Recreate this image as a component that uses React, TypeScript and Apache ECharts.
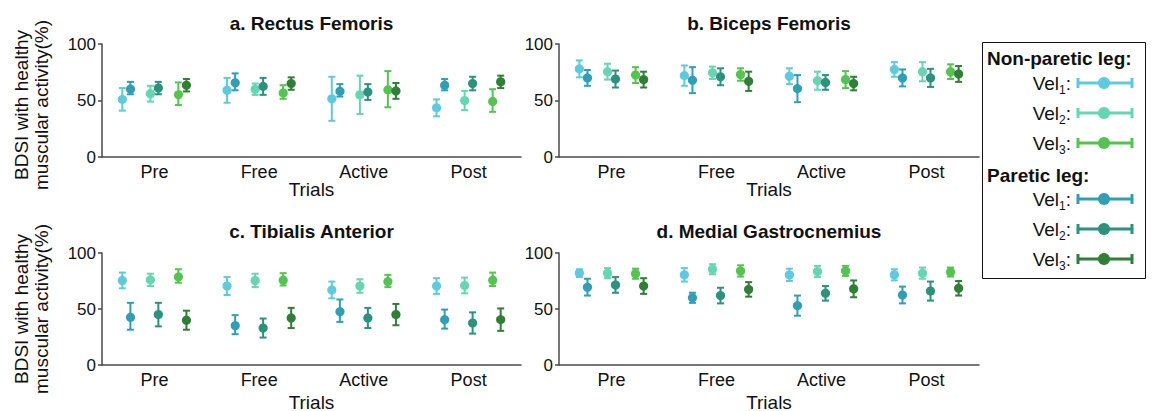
import React, { useEffect, useRef } from "react";
import * as echarts from "echarts";

const FONT = '"Liberation Sans", Arial, Helvetica, sans-serif';

// Trial conditions on the x axis
const trials = ["Pre", "Free", "Active", "Post"];
const yTicks = [0, 50, 100];

// Group order: non-paretic Vel1, paretic Vel1, non-paretic Vel2, paretic Vel2, non-paretic Vel3, paretic Vel3
const groupNames = ["Non-paretic Vel1", "Paretic Vel1", "Non-paretic Vel2", "Paretic Vel2", "Non-paretic Vel3", "Paretic Vel3"];
const groupColors = ["#5ECAE0", "#2E9FB5", "#64D6B2", "#2B927C", "#53C44E", "#2F7F36"];

// Mean BDSI (%) per group, per trial
const rectusMeans = [
  [51, 59, 51.5, 43.5],
  [61, 66.5, 59, 64],
  [56, 60, 55, 50],
  [61, 62.5, 57.5, 65],
  [56, 57.5, 60, 50],
  [63.5, 65, 58.5, 66.5],
];
const rectusErrs = [
  [10, 11, 19.5, 7.5],
  [5.5, 7.5, 5.5, 5],
  [7, 5, 17, 8.5],
  [5.5, 7.5, 7, 6],
  [10, 6, 16, 10],
  [5.5, 5.5, 7, 5.5],
];

const bicepsMeans = [
  [78, 72, 71.5, 77.5],
  [70, 68, 60.5, 70],
  [75.5, 74.5, 67.5, 75.5],
  [69, 71, 66, 70],
  [72.5, 73, 68.5, 75.5],
  [68.5, 67, 65, 73.5],
];
const bicepsErrs = [
  [7.5, 9, 7, 6.5],
  [7, 11.5, 12, 7.5],
  [7, 5.5, 8, 8.5],
  [7.5, 7.5, 6.5, 8],
  [7, 5.5, 7.5, 6.5],
  [7, 8.5, 6, 7],
];

const tibialisMeans = [
  [75.5, 70.5, 67, 70.5],
  [43.5, 36, 48.5, 41],
  [76, 75.5, 70.5, 71],
  [45, 33, 42, 37.5],
  [79.5, 76.5, 75, 76.5],
  [40, 42, 45, 40.5],
];
const tibialisErrs = [
  [7, 8, 7.5, 7],
  [12, 8.5, 10, 8.5],
  [5.5, 6, 6, 7],
  [10.5, 8.5, 9, 9.5],
  [6, 5.5, 5.5, 6],
  [8.5, 9, 9.5, 10],
];

const gastrocMeans = [
  [82, 80.5, 80.5, 80.5],
  [69.5, 60, 53, 62.5],
  [82, 85.5, 83.5, 82],
  [71.5, 62, 64, 66],
  [81.5, 84, 84, 83],
  [70.5, 67.5, 68, 68.5],
];
const gastrocErrs = [
  [3.5, 6, 5.5, 5],
  [7.5, 4.5, 9, 7.5],
  [4.5, 4.5, 5, 5],
  [7, 7, 6.5, 8.5],
  [4.5, 5, 4.5, 4],
  [7, 6.5, 7.5, 6.5],
];

const panelTitles = ["a. Rectus Femoris", "b. Biceps Femoris", "c. Tibialis Anterior", "d. Medial Gastrocnemius"];
const panelMeans = [rectusMeans, bicepsMeans, tibialisMeans, gastrocMeans];
const panelErrs = [rectusErrs, bicepsErrs, tibialisErrs, gastrocErrs];

// Horizontal offset of each group inside a category band (fraction of band width)
const groupOffsets = [-0.306, -0.229, -0.038, 0.038, 0.229, 0.306];

const grids = [
  { left: 102, top: 44, width: 419, height: 113 },
  { left: 559, top: 44, width: 420, height: 113 },
  { left: 102, top: 253, width: 419, height: 112 },
  { left: 559, top: 253, width: 420, height: 112 },
];

const AXIS_COLOR = "#4a4a4a";
const TEXT_COLOR = "#111";

function errorBarSeries(panel: number, g: number) {
  const means = panelMeans[panel][g];
  const errs = panelErrs[panel][g];
  const color = groupColors[g];
  return {
    type: "custom",
    name: groupNames[g],
    xAxisIndex: panel,
    yAxisIndex: panel,
    encode: { x: 0, y: 1 },
    data: trials.map((_, i) => [i, means[i], errs[i]]),
    renderItem: (_params: any, api: any) => {
      const ci = api.value(0);
      const m = api.value(1);
      const e = api.value(2);
      const band = api.size([1, 0])[0];
      const c = api.coord([ci, m]);
      const x = c[0] + groupOffsets[g] * band;
      const yTop = api.coord([ci, m + e])[1];
      const yBot = api.coord([ci, m - e])[1];
      const st = { stroke: color, lineWidth: 2 };
      return {
        type: "group",
        children: [
          { type: "line", shape: { x1: x, y1: yTop, x2: x, y2: yBot }, style: st },
          { type: "line", shape: { x1: x - 3.5, y1: yTop, x2: x + 3.5, y2: yTop }, style: st },
          { type: "line", shape: { x1: x - 3.5, y1: yBot, x2: x + 3.5, y2: yBot }, style: st },
          { type: "circle", shape: { cx: x, cy: c[1], r: 4.6 }, style: { fill: color } },
        ],
      };
    },
  };
}

function legendGraphics() {
  const els: any[] = [];
  els.push({
    type: "rect",
    shape: { x: 982.5, y: 42.5, width: 163, height: 236 },
    style: { fill: "#fff", stroke: "#111", lineWidth: 1 },
  });
  const headings = [
    { text: "Non-paretic leg:", y: 58 },
    { text: "Paretic leg:", y: 175 },
  ];
  headings.forEach((h) => {
    els.push({
      type: "text",
      x: 987,
      y: h.y,
      style: {
        text: h.text,
        font: `bold 19px ${FONT}`,
        fill: TEXT_COLOR,
        align: "left",
        verticalAlign: "middle",
      },
    });
  });
  const rowYs = [83, 113, 143, 199, 229, 259];
  const rowGroups = [0, 2, 4, 1, 3, 5];
  const rowIdx = [1, 2, 3, 1, 2, 3];
  rowYs.forEach((y, k) => {
    const color = groupColors[rowGroups[k]];
    els.push({
      type: "text",
      x: 1071,
      y,
      style: {
        text: `{v|Vel}{s|${rowIdx[k]}}{v|:}`,
        rich: {
          v: { fontSize: 19, fontFamily: FONT, fill: TEXT_COLOR },
          s: { fontSize: 12, fontFamily: FONT, fill: TEXT_COLOR, padding: [13, 0, 0, 0] },
        },
        align: "right",
        verticalAlign: "middle",
      },
    });
    const x1 = 1078;
    const x2 = 1132;
    const st = { stroke: color, lineWidth: 3 };
    els.push({ type: "line", shape: { x1, y1: y, x2, y2: y }, style: st });
    els.push({ type: "line", shape: { x1, y1: y - 5, x2: x1, y2: y + 5 }, style: st });
    els.push({ type: "line", shape: { x1: x2, y1: y - 5, x2, y2: y + 5 }, style: st });
    els.push({ type: "circle", shape: { cx: 1104, cy: y, r: 6 }, style: { fill: color } });
  });
  return els;
}

function panelTexts() {
  const els: any[] = [];
  grids.forEach((gr, i) => {
    const cx = gr.left + gr.width / 2;
    const top = i < 2;
    els.push({
      type: "text",
      x: cx,
      y: top ? 23 : 231,
      style: {
        text: panelTitles[i],
        font: `bold 19px ${FONT}`,
        fill: TEXT_COLOR,
        align: "center",
        verticalAlign: "middle",
      },
    });
    els.push({
      type: "text",
      x: cx,
      y: top ? 189 : 402,
      style: {
        text: "Trials",
        font: `19px ${FONT}`,
        fill: TEXT_COLOR,
        align: "center",
        verticalAlign: "middle",
      },
    });
  });
  [105, 309].forEach((y) => {
    els.push({
      type: "text",
      x: 31,
      y,
      rotation: Math.PI / 2,
      style: {
        text: "BDSI with healthy\nmuscular activity(%)",
        font: `19px ${FONT}`,
        lineHeight: 20,
        fill: TEXT_COLOR,
        align: "center",
        verticalAlign: "middle",
      },
    });
  });
  return els;
}

export default function App() {
  const ref = useRef<HTMLDivElement>(null);

  useEffect(() => {
    if (!ref.current) return;
    const chart = echarts.init(ref.current, null, { renderer: "svg" });
    const series: any[] = [];
    for (let p = 0; p < 4; p++) {
      for (let g = 0; g < 6; g++) series.push(errorBarSeries(p, g));
    }
    chart.setOption({
      animation: false,
      backgroundColor: "#fff",
      textStyle: { fontFamily: FONT },
      grid: grids.map((g) => ({ ...g, containLabel: false })),
      xAxis: grids.map((_, i) => ({
        type: "category",
        gridIndex: i,
        data: trials,
        boundaryGap: true,
        axisLine: { lineStyle: { color: AXIS_COLOR, width: 1.5 } },
        axisTick: { alignWithLabel: true, length: 4, lineStyle: { color: AXIS_COLOR, width: 1.5 } },
        axisLabel: { color: TEXT_COLOR, fontSize: 18, margin: 6, fontFamily: FONT },
        splitLine: { show: false },
      })),
      yAxis: grids.map((_, i) => ({
        type: "value",
        gridIndex: i,
        min: yTicks[0],
        max: yTicks[yTicks.length - 1],
        interval: 50,
        axisLine: { show: true, lineStyle: { color: AXIS_COLOR, width: 1.5 } },
        axisTick: { show: true, length: 4, lineStyle: { color: AXIS_COLOR, width: 1.5 } },
        axisLabel: { color: TEXT_COLOR, fontSize: 17, margin: 6, fontFamily: FONT },
        splitLine: { show: false },
      })),
      series,
      graphic: [...panelTexts(), ...legendGraphics()],
    });
    return () => chart.dispose();
  }, []);

  return (
    <div
      ref={ref}
      style={{ position: "fixed", left: 0, top: 0, width: 1153, height: 411, background: "#fff" }}
    />
  );
}
